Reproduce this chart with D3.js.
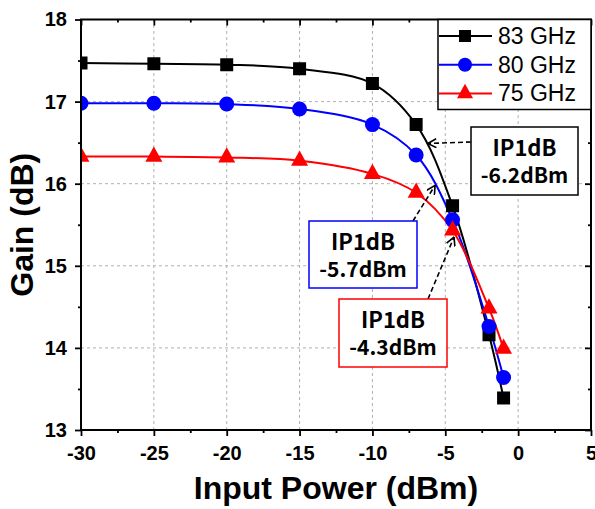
<!DOCTYPE html>
<html>
<head>
<meta charset="utf-8">
<script src="https://cdn.jsdelivr.net/npm/d3@7"></script>
<style>
  body { margin: 0; background: #fff; }
  svg { display: block; }
</style>
</head>
<body>
<div id="chart"></div>
<script>
// data
const inputPower = [-30, -25, -20, -15, -10, -7, -4.5, -2, -1]
const gain83 = [17.47, 17.46, 17.45, 17.40, 17.22, 16.72, 15.73, 14.16, 13.39]
const gain80 = [16.98, 16.98, 16.97, 16.91, 16.72, 16.35, 15.56, 14.26, 13.64]
const gain75 = [16.33, 16.33, 16.32, 16.28, 16.12, 15.89, 15.43, 14.48, 13.99]
const seriesNames = ["83 GHz", "80 GHz", "75 GHz"]
const xTicks = [-30, -25, -20, -15, -10, -5, 0, 5]
const yTicks = [13, 14, 15, 16, 17, 18]
const ip1dbText = ["-6.2dBm", "-5.7dBm", "-4.3dBm"]
// arrow tips in data space (input power, gain)
const ip1dbTips = [[-6.2, 16.49], [-5.7, 15.98], [-4.4, 15.35]]

const width = 595, height = 509
const margin = { top: 19.5, right: 4, bottom: 79, left: 81 }
const colors = ["#000000", "#0000ff", "#ff0000"]
const shapes = ["square", "circle", "triangle"]
const numFont = "'Liberation Sans', Arial, sans-serif"
const boxFont = "'Noto Sans CJK KR', 'Noto Sans', sans-serif"

let svg = d3.select("#chart").append("svg")
    .attr("width", width)
    .attr("height", height)

let x = d3.scaleLinear().domain([-30, 5]).range([margin.left, width - margin.right])
let y = d3.scaleLinear().domain([13, 18]).range([height - margin.bottom, margin.top])
let x0 = x.range()[0], x1 = x.range()[1], y0 = y.range()[0], y1 = y.range()[1]

// arrow head
let defs = svg.append("defs")
defs.append("marker")
    .attr("id", "arrow")
    .attr("viewBox", "0 0 10 10")
    .attr("refX", 9.5).attr("refY", 5)
    .attr("markerWidth", 10).attr("markerHeight", 10)
    .attr("markerUnits", "userSpaceOnUse")
    .attr("orient", "auto")
    .append("path")
    .attr("d", "M1,0.5 L9.5,5 L1,9.5")
    .attr("fill", "none")
    .attr("stroke", "#000")
    .attr("stroke-width", 1.6)
defs.append("clipPath").attr("id", "plot-clip")
    .append("rect")
    .attr("x", x0).attr("y", y1)
    .attr("width", x1 - x0).attr("height", y0 - y1)

//网格
let grid = svg.append("g").attr("stroke", "#b0b0b0").attr("stroke-width", 1).attr("stroke-dasharray", "3 3")
grid.selectAll(".vg").data(xTicks.slice(1, -1)).enter().append("line")
    .attr("x1", d => x(d)).attr("x2", d => x(d))
    .attr("y1", y0).attr("y2", y1)
grid.selectAll(".hg").data(yTicks.slice(1, -1)).enter().append("line")
    .attr("y1", d => y(d)).attr("y2", d => y(d))
    .attr("x1", x0).attr("x2", x1)

// axes
let xMinor = d3.range(-27.5, 5, 5)
let yMinor = d3.range(13.5, 18, 1)
let plainNum = d => String(d)
function styleAxis(g) {
    g.select(".domain").remove()
    g.selectAll(".tick line").attr("stroke", "#000").attr("stroke-width", 1.8)
    g.selectAll("text")
        .attr("fill", "#000")
        .attr("font-family", numFont)
        .attr("font-weight", "bold")
        .attr("font-size", 20)
}
svg.append("g").attr("transform", `translate(0,${y0})`)
    .call(d3.axisBottom(x).tickValues(xTicks).tickSize(6).tickPadding(10).tickFormat(plainNum))
    .call(styleAxis)
svg.append("g").attr("transform", `translate(0,${y0})`)
    .call(d3.axisBottom(x).tickValues(xMinor).tickSize(3).tickFormat(""))
    .call(styleAxis)
svg.append("g").attr("transform", `translate(${x0},0)`)
    .call(d3.axisLeft(y).tickValues(yTicks).tickSize(6).tickPadding(8).tickFormat(plainNum))
    .call(styleAxis)
svg.append("g").attr("transform", `translate(${x0},0)`)
    .call(d3.axisLeft(y).tickValues(yMinor).tickSize(3).tickFormat(""))
    .call(styleAxis)
svg.append("g").attr("transform", `translate(0,${y1})`)
    .call(d3.axisTop(x).tickValues(xTicks).tickSize(-6).tickFormat(""))
    .call(styleAxis)
svg.append("g").attr("transform", `translate(0,${y1})`)
    .call(d3.axisTop(x).tickValues(xMinor).tickSize(-3).tickFormat(""))
    .call(styleAxis)
svg.append("g").attr("transform", `translate(${x1},0)`)
    .call(d3.axisRight(y).tickValues(yTicks).tickSize(-6).tickFormat(""))
    .call(styleAxis)
svg.append("g").attr("transform", `translate(${x1},0)`)
    .call(d3.axisRight(y).tickValues(yMinor).tickSize(-3).tickFormat(""))
    .call(styleAxis)

// axis titles
svg.append("text")
    .attr("x", (x0 + x1) / 2).attr("y", 499)
    .attr("text-anchor", "middle")
    .attr("font-family", numFont).attr("font-weight", "bold").attr("font-size", 32)
    .text("Input Power (dBm)")
svg.append("text")
    .attr("transform", `translate(33,${(y0 + y1) / 2}) rotate(-90)`)
    .attr("text-anchor", "middle")
    .attr("font-family", numFont).attr("font-weight", "bold").attr("font-size", 32)
    .text("Gain (dB)")

// markers
function markerPath(shape, s) {
    if (shape == "square") return `M${-s / 2},${-s / 2}h${s}v${s}h${-s}Z`
    if (shape == "circle") return d3.symbol(d3.symbolCircle, Math.PI * s * s / 4)()
    let h = s * 0.9
    return `M0,${-h * 2 / 3}L${s / 2},${h / 3}L${-s / 2},${h / 3}Z`
}

let series = [gain83, gain80, gain75].map((vals, i) => ({
    name: seriesNames[i],
    color: colors[i],
    shape: shapes[i],
    points: inputPower.map((p, j) => [p, vals[j]])
}))
let line = d3.line()
    .x(d => x(d[0]))
    .y(d => y(d[1]))
    .curve(d3.curveCatmullRom.alpha(0.5))

let plot = svg.append("g").attr("clip-path", "url(#plot-clip)")
series.forEach((s) => {
    plot.append("path")
        .datum(s.points)
        .attr("d", line)
        .attr("fill", "none")
        .attr("stroke", s.color)
        .attr("stroke-width", 2)
})
let markSize = { square: 13, circle: 15, triangle: 17 }
series.forEach((s) => {
    plot.selectAll(null)
        .data(s.points)
        .enter()
        .append("path")
        .attr("d", markerPath(s.shape, markSize[s.shape]))
        .attr("transform", d => `translate(${x(d[0])},${y(d[1])})`)
        .attr("fill", s.color)
})

// plot frame
svg.append("rect")
    .attr("x", x0).attr("y", y1)
    .attr("width", x1 - x0).attr("height", y0 - y1)
    .attr("fill", "none")
    .attr("stroke", "#000")
    .attr("stroke-width", 2)

// legend
let legend = svg.append("g")
legend.append("rect")
    .attr("x", 438).attr("y", y1)
    .attr("width", x1 - 438).attr("height", 90)
    .attr("fill", "#fff")
    .attr("stroke", "#000")
    .attr("stroke-width", 1.5)
let legendSize = { square: 12, circle: 14, triangle: 16 }
series.forEach((s, i) => {
    let ly = 36 + i * 28.7
    let item = legend.append("g")
    item.append("line")
        .attr("x1", 439).attr("x2", 492)
        .attr("y1", ly).attr("y2", ly)
        .attr("stroke", s.color).attr("stroke-width", 2)
    item.append("path")
        .attr("d", markerPath(s.shape, legendSize[s.shape]))
        .attr("transform", `translate(465,${ly})`)
        .attr("fill", s.color)
    item.append("text")
        .attr("x", 498).attr("y", ly + 8)
        .attr("font-family", numFont).attr("font-size", 23)
        .attr("fill", "#000")
        .text(s.name)
})

// IP1dB call-outs
let boxes = [
    { x: 471, y: 127, w: 107, h: 68, from: [471, 142] },
    { x: 309, y: 221, w: 108, h: 67, from: [413, 221] },
    { x: 339, y: 299, w: 108, h: 68, from: [428, 299] }
]
boxes.forEach((b, i) => {
    let tip = ip1dbTips[i]
    svg.append("line")
        .attr("x1", b.from[0]).attr("y1", b.from[1])
        .attr("x2", x(tip[0])).attr("y2", y(tip[1]))
        .attr("stroke", "#000")
        .attr("stroke-width", 1.6)
        .attr("stroke-dasharray", "5 3")
        .attr("marker-end", "url(#arrow)")
    let g = svg.append("g")
    g.append("rect")
        .attr("x", b.x).attr("y", b.y)
        .attr("width", b.w).attr("height", b.h)
        .attr("fill", "#fff")
        .attr("stroke", colors[i])
        .attr("stroke-width", 1.5)
    g.append("text")
        .attr("x", b.x + b.w / 2).attr("y", b.y + 29)
        .attr("text-anchor", "middle")
        .attr("font-family", boxFont).attr("font-weight", "bold").attr("font-size", 22)
        .text("IP1dB")
    g.append("text")
        .attr("x", b.x + b.w / 2).attr("y", b.y + 56)
        .attr("text-anchor", "middle")
        .attr("font-family", boxFont).attr("font-weight", "bold").attr("font-size", 21)
        .text(ip1dbText[i])
})
</script>
</body>
</html>
